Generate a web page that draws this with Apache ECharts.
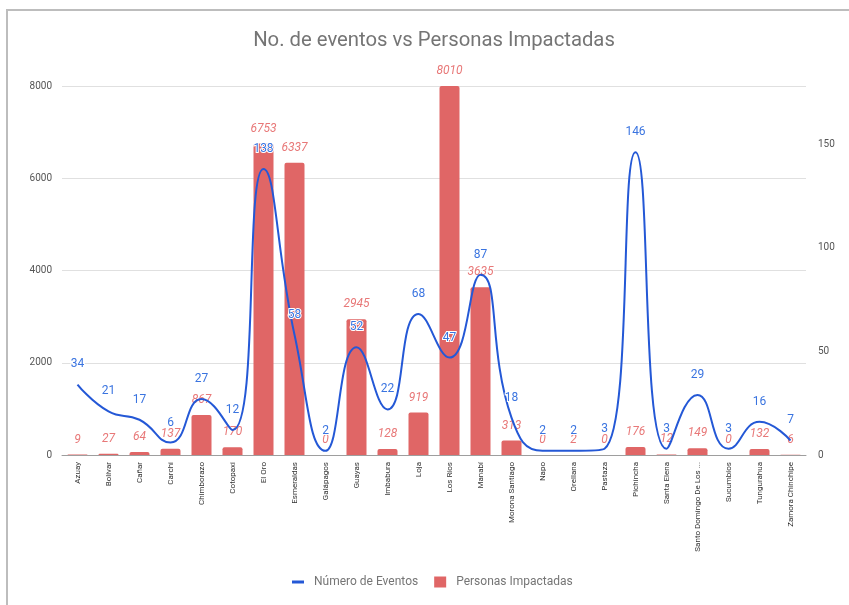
<!DOCTYPE html>
<html>
<head>
<meta charset="utf-8">
<script src="https://cdn.jsdelivr.net/npm/echarts@6/dist/echarts.min.js"></script>
<style>
html,body{margin:0;padding:0;background:#fff;}
#frame{position:absolute;left:6px;top:9px;width:843px;height:596px;border-left:2px solid #bdbdbd;border-top:2px solid #bdbdbd;box-sizing:border-box;}
#chart{position:absolute;left:0;top:0;width:849px;height:605px;}
</style>
</head>
<body>
<div id="frame"></div>
<div id="chart"></div>
<script>
const categories = ["Azuay","Bolívar","Cañar","Carchi","Chimborazo","Cotopaxi","El Oro","Esmeraldas","Galápagos","Guayas","Imbabura","Loja","Los Ríos","Manabí","Morona Santiago","Napo","Orellana","Pastaza","Pichincha","Santa Elena","Santo Domingo De Los Tsáchilas","Sucumbíos","Tungurahua","Zamora Chinchipe"];
const eventos = [34,21,17,6,27,12,138,58,2,52,22,68,47,87,18,2,2,3,146,3,29,3,16,7];
const personas = [9,27,64,137,867,170,6753,6337,0,2945,128,919,8010,3635,313,0,2,0,176,12,149,0,132,6];
const leftTicks = [0,2000,4000,6000,8000];
const rightTicks = [0,50,100,150];

const chart = echarts.init(document.getElementById('chart'), null, {renderer:'canvas'});
chart.setOption({
  animation:false,
  textStyle:{fontFamily:'Roboto'},
  title:{
    text:'No. de eventos vs Personas Impactadas',
    left:429, textAlign:'center', top:26,
    textStyle:{fontFamily:'Roboto',fontSize:20.3,fontWeight:'normal',color:'#757575'}
  },
  legend:{
    top:571, left:287, itemGap:16, itemWidth:12, itemHeight:11,
    textStyle:{fontFamily:'Roboto',fontSize:12,color:'#757575',padding:[0,0,0,5]},
    data:[{name:'Número de Eventos',icon:'path://M0,0H12V3H0Z'},{name:'Personas Impactadas',icon:'rect'}]
  },
  grid:{left:62,right:43,top:86,bottom:150},
  xAxis:{
    type:'category', data:categories, boundaryGap:true,
    axisTick:{show:false},
    axisLine:{lineStyle:{color:'#9e9e9e',width:1}},
    axisLabel:{rotate:90,fontSize:8,color:'#333',margin:7,width:92,overflow:'truncate',ellipsis:'...',interval:0}
  },
  yAxis:[
    {type:'value',min:leftTicks[0],max:leftTicks[leftTicks.length-1],interval:2000,
     axisLine:{show:false},axisTick:{show:false},
     axisLabel:{fontSize:10,color:'#555',margin:10,formatter:function(v){return String(v);}},
     splitLine:{lineStyle:{color:'#e0e0e0'}}},
    {type:'value',min:rightTicks[0],max:178,interval:50,
     axisLine:{show:false},axisTick:{show:false},
     axisLabel:{fontSize:10,color:'#555',margin:12,showMaxLabel:false,
       formatter:function(v){return rightTicks.indexOf(v)>=0?String(v):'';}},
     splitLine:{show:false}}
  ],
  series:[
    {name:'Número de Eventos',type:'line',yAxisIndex:1,data:eventos,smooth:0.5,
     symbol:'circle',symbolSize:0.1,showSymbol:true,z:4,
     lineStyle:{color:'#2458d6',width:2},itemStyle:{color:'#2458d6'},
     label:{show:true,position:'top',distance:14,fontSize:12,color:'#3a74e0',
       textBorderColor:'#fff',textBorderWidth:2}},
    {name:'Personas Impactadas',type:'bar',yAxisIndex:0,data:personas,barWidth:20,z:2,
     itemStyle:{color:'#e06666',borderRadius:[2,2,0,0]},
     label:{show:true,position:'top',distance:9,fontSize:12,fontStyle:'italic',color:'#e87878',
       textBorderColor:'#fff',textBorderWidth:2}}
  ]
});
</script>
</body>
</html>
